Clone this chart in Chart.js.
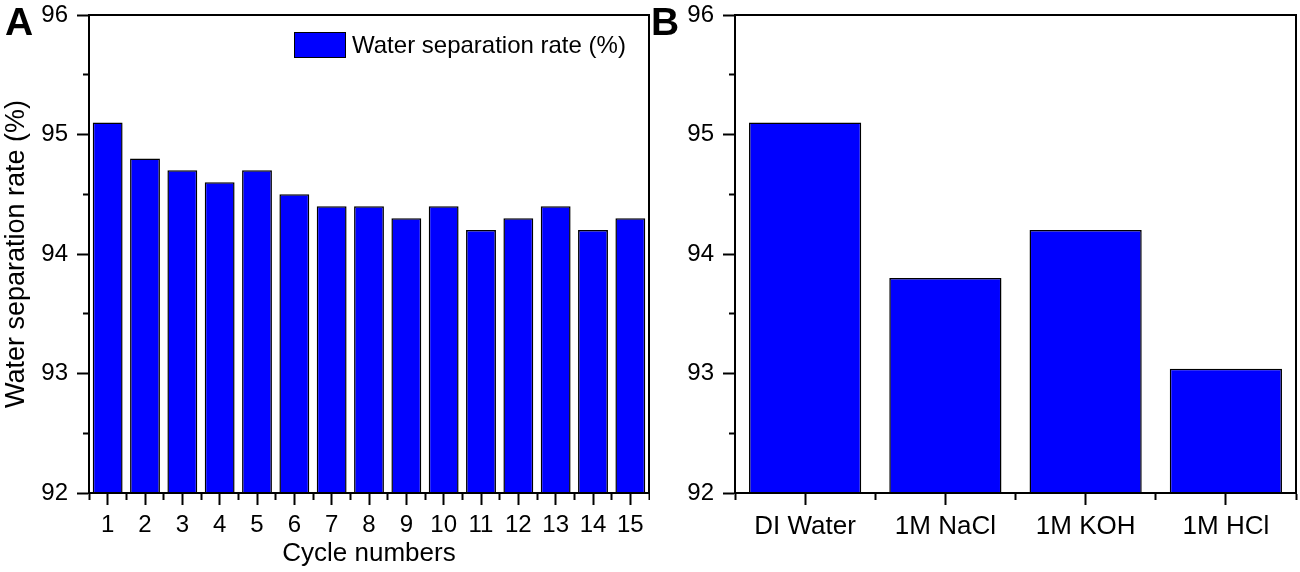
<!DOCTYPE html>
<html>
<head>
<meta charset="utf-8">
<title>Water separation rate</title>
<script src="https://cdn.jsdelivr.net/npm/chart.js@4.4.1/dist/chart.umd.min.js"></script>
<style>
  body { margin: 0; background: #fff; }
  #wrap { position: relative; width: 1300px; height: 572px; font-family: "Liberation Sans", Arial, sans-serif; color: #000; }
  .panel { position: absolute; top: 0; width: 650px; height: 572px; }
  #panelA { left: 0; }
  #panelB { left: 650px; }
  .tag { position: absolute; top: 2px; font-weight: bold; font-size: 39px; line-height: 1; }
  #legendA { position: absolute; left: 294px; top: 32px; display: flex; align-items: center; font-size: 24px; line-height: 26px; white-space: nowrap; }
  #legendA .swatch { width: 50px; height: 24px; border: 1.5px solid #000; margin-right: 6px; }
</style>
</head>
<body>
<div id="wrap">
  <div class="panel" id="panelA"><canvas id="cycleChart"></canvas></div>
  <div class="panel" id="panelB"><canvas id="mediumChart"></canvas></div>
  <div id="legendA"></div>
  <span class="tag" style="left:5px">A</span>
  <span class="tag" style="left:651px">B</span>
</div>
<script>
// panel A: reuse cycles
const cycles = [1, 2, 3, 4, 5, 6, 7, 8, 9, 10, 11, 12, 13, 14, 15];
const cycleRates = [95.1, 94.8, 94.7, 94.6, 94.7, 94.5, 94.4, 94.4, 94.3, 94.4, 94.2, 94.3, 94.4, 94.2, 94.3];

// panel B: different media
const media = ["DI Water", "1M NaCl", "1M KOH", "1M HCl"];
const mediaPositions = [1, 2, 3, 4];
const mediaRates = [95.1, 93.8, 94.2, 93.04];

const yRange = [92, 96];

Chart.defaults.font.family = '"Liberation Sans", Arial, sans-serif';
Chart.defaults.color = "#000";

const BLUE = "#0000ff";

// closes the box on top and right like the original plot frame
const framePlugin = {
  id: "frame",
  afterDatasetsDraw(chart) {
    const { ctx, chartArea: a } = chart;
    ctx.save();
    ctx.strokeStyle = "#000";
    ctx.lineWidth = 2;
    ctx.strokeRect(a.left, a.top, a.right - a.left, a.bottom - a.top);
    ctx.restore();
  },
};

// legend sits inside the plot, so build it as html from the dataset
const htmlLegendPlugin = {
  id: "htmlLegend",
  afterUpdate(chart, args, opts) {
    const box = document.getElementById(opts.containerID);
    if (!box) return;
    box.innerHTML = "";
    chart.data.datasets.forEach((ds) => {
      const swatch = document.createElement("span");
      swatch.className = "swatch";
      swatch.style.background = ds.backgroundColor;
      const text = document.createElement("span");
      text.textContent = ds.label;
      box.appendChild(swatch);
      box.appendChild(text);
    });
  },
};

function isMinor(ctx) {
  return !!ctx.tick && !Number.isInteger(ctx.tick.value);
}

function yAxis(width, title) {
  return {
    type: "linear",
    min: yRange[0],
    max: yRange[1],
    afterFit: (scale) => {
      scale.width = width;
      // let the top label hang over the edge instead of pushing the plot down
      scale.paddingTop = 0;
      scale.paddingBottom = 0;
    },
    ticks: {
      stepSize: 0.5,
      autoSkip: false,
      padding: 9,
      font: { size: 24 },
      callback: (v) => (Number.isInteger(v) ? String(v) : ""),
    },
    grid: {
      drawOnChartArea: false,
      tickLength: 12,
      tickColor: "#000",
      tickWidth: 2,
      // minor ticks: only the inner half of the tick is drawn
      tickBorderDash: (ctx) => (isMinor(ctx) ? [0, 6, 6, 100] : []),
    },
    border: { color: "#000", width: 2 },
    title: {
      display: !!title,
      text: title,
      font: { size: 27 },
      padding: { top: 0, bottom: 0 },
    },
  };
}

function xAxis(max, labelFor, fontSize, title) {
  return {
    type: "linear",
    min: 0.5,
    max: max + 0.5,
    offset: false,
    afterFit: (scale) => {
      scale.height = 79;
      scale.paddingLeft = 0;
      scale.paddingRight = 0;
    },
    ticks: {
      stepSize: 0.5,
      autoSkip: false,
      maxRotation: 0,
      padding: 6,
      font: { size: fontSize },
      callback: (v) => (Number.isInteger(v) ? labelFor(v) : ""),
    },
    grid: {
      offset: false,
      drawOnChartArea: false,
      tickLength: 12,
      tickColor: "#000",
      tickWidth: 2,
      tickBorderDash: (ctx) => (isMinor(ctx) ? [6, 100] : []),
    },
    border: { color: "#000", width: 2 },
    title: {
      display: !!title,
      text: title,
      font: { size: 26 },
      padding: { top: 0, bottom: 3 },
    },
  };
}

function barDataset(label, xs, ys) {
  return {
    label,
    data: xs.map((x, i) => ({ x, y: ys[i] })),
    backgroundColor: BLUE,
    borderColor: "#000",
    borderWidth: 1.5,
    barPercentage: 0.8,
    // half-step ticks make the bar ruler half a category wide
    categoryPercentage: 2,
  };
}

new Chart(document.getElementById("cycleChart"), {
  type: "bar",
  data: { datasets: [barDataset("Water separation rate (%)", cycles, cycleRates)] },
  options: {
    responsive: true,
    maintainAspectRatio: false,
    animation: false,
    layout: { padding: { top: 15, right: 1, left: 0, bottom: 0 } },
    scales: {
      x: xAxis(cycles.length, (v) => String(v), 24, "Cycle numbers"),
      y: yAxis(89, "Water separation rate (%)"),
    },
    plugins: {
      legend: { display: false },
      htmlLegend: { containerID: "legendA" },
      tooltip: { enabled: false },
    },
  },
  plugins: [framePlugin, htmlLegendPlugin],
});

new Chart(document.getElementById("mediumChart"), {
  type: "bar",
  data: { datasets: [barDataset("Water separation rate (%)", mediaPositions, mediaRates)] },
  options: {
    responsive: true,
    maintainAspectRatio: false,
    animation: false,
    layout: { padding: { top: 15, right: 4, left: 0, bottom: 0 } },
    scales: {
      x: xAxis(media.length, (v) => media[v - 1], 26, ""),
      y: yAxis(85, ""),
    },
    plugins: {
      legend: { display: false },
      tooltip: { enabled: false },
    },
  },
  plugins: [framePlugin],
});
</script>
</body>
</html>
